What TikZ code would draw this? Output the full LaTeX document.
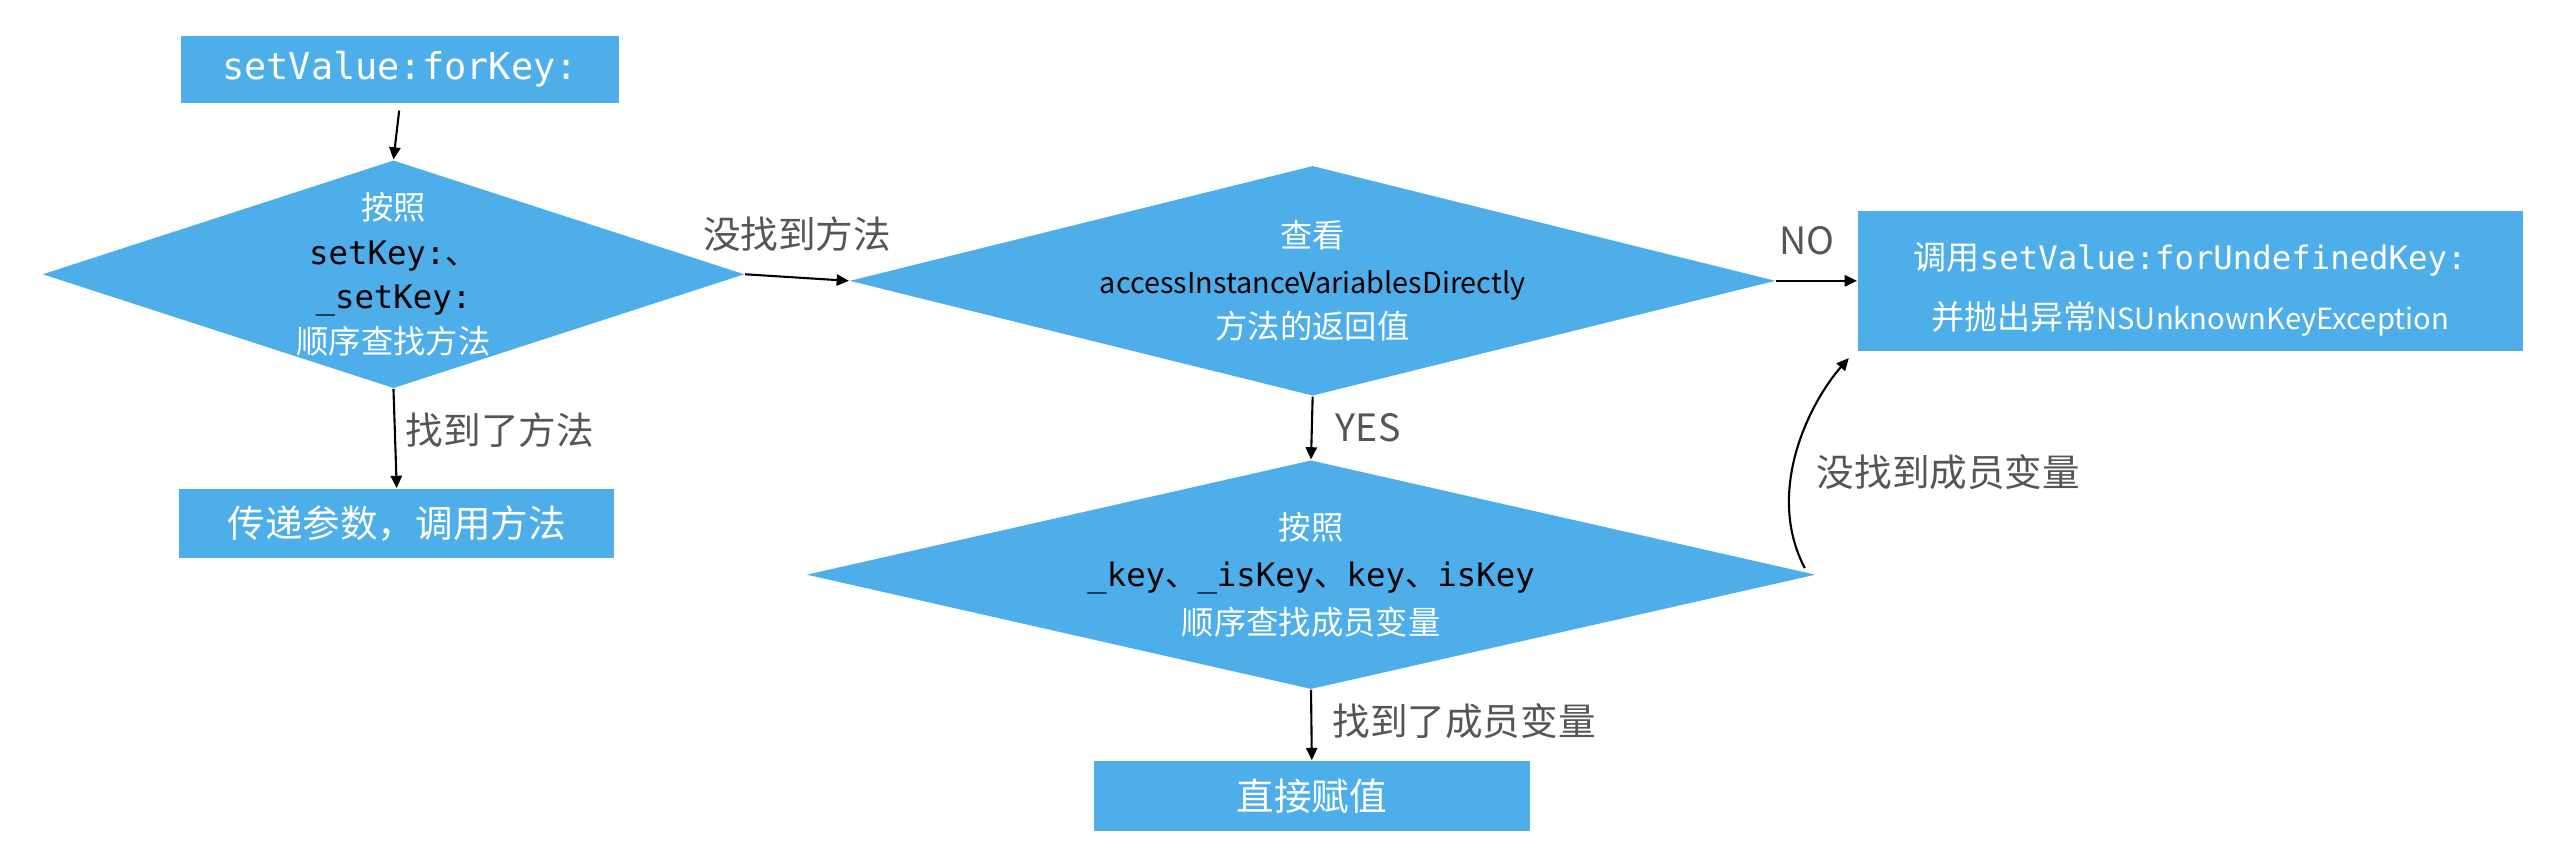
\documentclass[tikz,border=0pt]{standalone}
\usepackage{fontspec}
\setmainfont{Noto Sans CJK SC}
\newfontfamily\codefont{DejaVu Sans Mono}
\usepackage{tikz}
\usetikzlibrary{shapes.geometric,arrows.meta,calc}
\definecolor{kvcblue}{RGB}{77,174,234}
\definecolor{kvcgray}{RGB}{85,85,85}
\newcommand{\kc}[1]{\textcolor{black}{\codefont #1}}
\newcommand{\dun}{\textcolor{black}{、}}

\begin{document}
\begin{tikzpicture}[x=0.16327mm,y=-0.16327mm,
  proc/.style={rectangle,fill=kvcblue,text=white,inner sep=0pt,align=center,
    font=\fontsize{10.7}{13}\selectfont},
  test/.style={diamond,fill=kvcblue,inner sep=0pt},
  intext/.style={align=center,inner sep=0pt,text=white},
  lbl/.style={text=kvcgray,inner sep=0pt,font=\fontsize{10.7}{13}\selectfont},
  flow/.style={draw,line width=0.6pt,-{Triangle[length=3.5pt,width=3.2pt]}}]
\useasboundingbox (0,0) rectangle (1568,528);

\node[proc,minimum width=43.8mm,minimum height=6.7mm,
  font=\fontsize{10.5}{12}\selectfont\codefont] (start) at (245,42.5) {setValue:forKey:};
\node[test,minimum width=70.2mm,minimum height=22.8mm] (d1) at (241,168) {};
\node[intext,font=\fontsize{9.2}{12.7}\selectfont] (d1txt) at (d1) {按照\\\kc{setKey:}\dun\\\kc{\_setKey:}\\顺序查找方法};
\node[proc,minimum width=43.5mm,minimum height=6.9mm] (call) at (243,320.5) {传递参数，调用方法};

\node[test,minimum width=92.6mm,minimum height=23.0mm] (d2) at (804,172) {};
\node[intext,font=\fontsize{9.2}{13}\selectfont] (d2txt) at (d2) {查看\\\textcolor{black}{\fontsize{8.2}{13}\selectfont accessInstanceVariablesDirectly}\\方法的返回值};
\node[proc,minimum width=66.5mm,minimum height=14.0mm] (undef) at (1341.5,172) {};
\node[intext,font=\fontsize{9.4}{17.1}\selectfont] (undeftxt) at ($(undef)+(0,5)$) {调用{\codefont\fontsize{9.2}{17.1}\selectfont setValue:forUndefinedKey:}\\并抛出异常{\fontsize{8.3}{17.1}\selectfont NSUnknownKeyException}};

\node[test,minimum width=100.9mm,minimum height=22.9mm] (d3) at (803,352) {};
\node[intext,font=\fontsize{9.2}{13.4}\selectfont] (d3txt) at (d3) {按照\\\kc{\_key}\dun\kc{\_isKey}\dun\kc{key}\dun\kc{isKey}\\顺序查找成员变量};
\node[proc,minimum width=43.6mm,minimum height=7.0mm] (assign) at (803.5,487.5) {直接赋值};

\draw[flow,shorten <=0.7mm] (start.south) -- (d1.north);
\draw[flow] (d1.south) -- node[lbl,pos=0.42,right=1mm] {找到了方法} (call.north);
\draw[flow] (d1.east) -- node[lbl,above=2.5mm] {没找到方法} (d2.west);
\draw[flow] (d2.east) -- node[lbl,pos=0.38,above=2.5mm] {NO} (undef.west);
\draw[flow] (d2.south) -- node[lbl,right=2.3mm] {YES} (d3.north);
\draw[flow] (d3.south) -- node[lbl,pos=0.45,right=2mm] {找到了成员变量} (assign.north);
\coordinate (miss) at ($(d3.east)+(-7,-4)$);
\coordinate (fail) at ($(undef.south west)+(-5,4)$);
\draw[flow] (miss) .. controls +(-25,-48) and +(-23,26) .. node[lbl,pos=0.4,right=2.4mm] {没找到成员变量} (fail);
\end{tikzpicture}
\end{document}
